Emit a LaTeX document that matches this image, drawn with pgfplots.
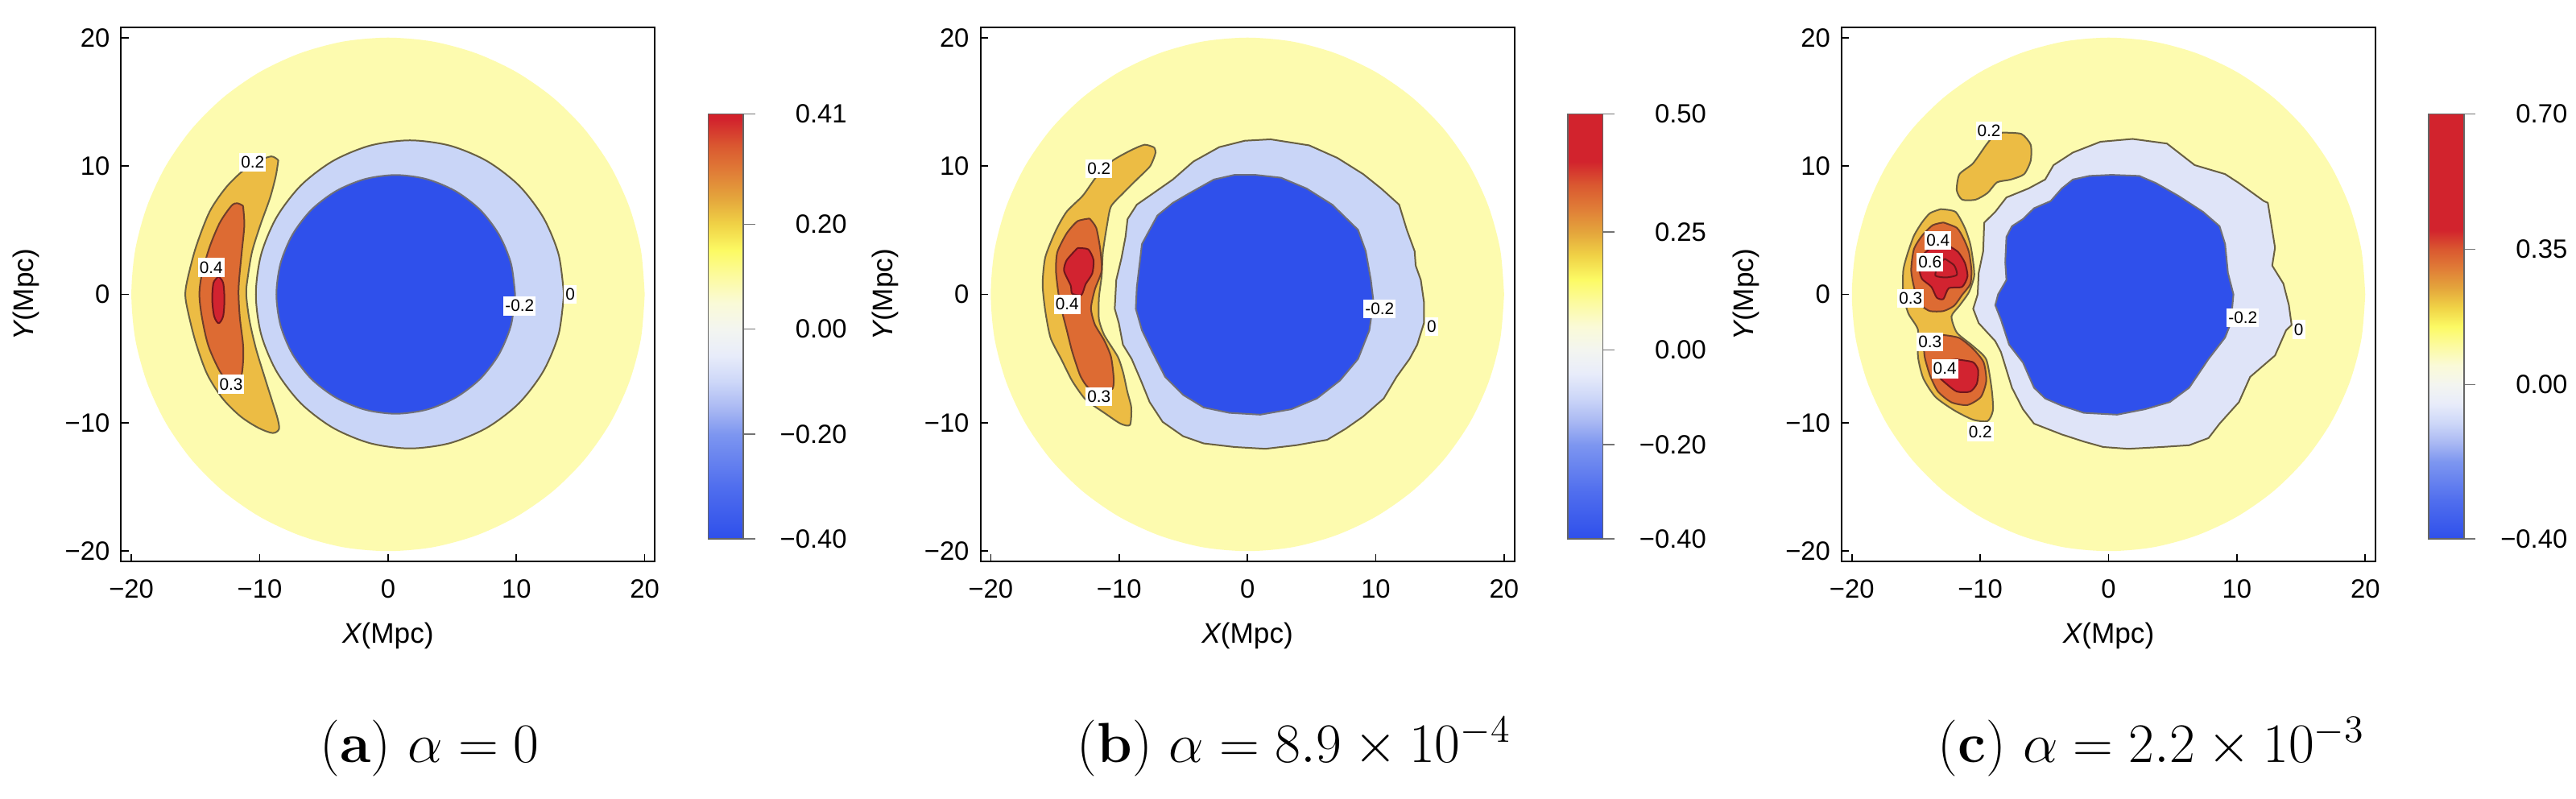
\documentclass[border=0pt]{standalone}
\usepackage{fontspec}
\usepackage{pgfplots}
\pgfplotsset{compat=1.18}
\newfontfamily\lsans{Liberation Sans}
\newcommand\tickfont{\lsans\fontsize{8.2}{9.8}\selectfont}
\newcommand\labfont{\lsans\fontsize{8.8}{10.5}\selectfont}
\newcommand\clabfont{\lsans\fontsize{5.2}{6}\selectfont}
\definecolor{bgY}{RGB}{253,251,175}
\definecolor{ringA}{RGB}{201,213,247}
\definecolor{ringC}{RGB}{223,228,248}
\definecolor{blu}{RGB}{47,80,235}
\definecolor{or2}{RGB}{236,188,68}
\definecolor{or3}{RGB}{221,107,51}
\definecolor{red4}{RGB}{210,35,48}
\definecolor{cl2}{RGB}{105,96,66}
\definecolor{cl3}{RGB}{110,62,42}
\definecolor{cl4}{RGB}{112,22,28}
\definecolor{cln}{RGB}{112,112,120}
\pgfplotsset{
  colormap={cmA}{rgb255(0pt)=(46,79,235); rgb255(10pt)=(80,110,238); rgb255(20pt)=(125,150,240); rgb255(25pt)=(170,185,243); rgb255(30pt)=(205,215,248); rgb255(35pt)=(232,236,250); rgb255(40pt)=(243,245,240); rgb255(45pt)=(250,250,215); rgb255(50pt)=(252,250,160); rgb255(55pt)=(252,250,100); rgb255(60pt)=(240,210,70); rgb255(65pt)=(228,165,60); rgb255(70pt)=(224,125,55); rgb255(75pt)=(218,88,48); rgb255(80pt)=(210,35,45); rgb255(81pt)=(212,32,40)},
  colormap={cmB}{rgb255(0pt)=(46,79,235); rgb255(10pt)=(80,110,238); rgb255(20pt)=(125,150,240); rgb255(25pt)=(170,185,243); rgb255(30pt)=(205,215,248); rgb255(35pt)=(232,236,250); rgb255(40pt)=(243,245,240); rgb255(45pt)=(250,250,215); rgb255(50pt)=(252,250,160); rgb255(55pt)=(252,250,100); rgb255(60pt)=(240,210,70); rgb255(65pt)=(228,165,60); rgb255(70pt)=(224,125,55); rgb255(75pt)=(218,88,48); rgb255(80pt)=(210,35,45); rgb255(90pt)=(210,35,45)},
  colormap={cmC}{rgb255(0pt)=(46,79,235); rgb255(10pt)=(80,110,238); rgb255(20pt)=(125,150,240); rgb255(25pt)=(170,185,243); rgb255(30pt)=(205,215,248); rgb255(35pt)=(232,236,250); rgb255(40pt)=(243,245,240); rgb255(45pt)=(250,250,215); rgb255(50pt)=(252,250,160); rgb255(55pt)=(252,250,100); rgb255(60pt)=(240,210,70); rgb255(65pt)=(228,165,60); rgb255(70pt)=(224,125,55); rgb255(75pt)=(218,88,48); rgb255(80pt)=(210,35,45); rgb255(110pt)=(210,35,45)},
  panel/.style={
    scale only axis, width=165.75pt, height=165.75pt,
    xmin=-20.8, xmax=20.8, ymin=-20.8, ymax=20.8,
    axis line style={line width=0.5pt},
    tick align=inside, tick pos=left, major tick length=2.3pt,
    tick style={line width=0.4pt, black},
    xtick={-20,-10,0,10,20}, ytick={-20,-10,0,10,20},
    xticklabels={−20,−10,0,10,20}, yticklabels={−20,−10,0,10,20},
    tick label style={font=\tickfont},
    xticklabel style={yshift=-2pt},
    xlabel={{\itshape X}(Mpc)}, ylabel={{\itshape Y}(Mpc)},
    label style={font=\labfont},
    xlabel style={at={(axis description cs:0.5,-0.1388)}, anchor=center},
    ylabel style={at={(axis description cs:-0.1786,0.5)}, anchor=center},
    colorbar, point meta min=-0.4,
  },
  cbar/.style={
    at={(parent axis.north east)}, anchor=north west,
    xshift=8pt, yshift=-26.9pt,
    scale only axis, width=10.9pt, height=131.9pt,
    ytick pos=right, yticklabel pos=right, tick align=outside, major tick length=3.6pt,
    ytick style={draw=black!55, line width=0.4pt},
    axis line style={draw=black!60, line width=0.4pt},
    yticklabel style={font=\tickfont, text width=21pt, align=right, xshift=4pt},
  },
  yellowdisk/.style={fill=bgY, draw=none, smooth},
  zr/.style={fill=#1, draw=cl2, line width=0.5pt, line join=round},
  nr/.style={fill=blu, draw=cln, line width=0.5pt, line join=round},
  r2/.style={fill=or2, draw=cl2, line width=0.5pt, line join=round},
  r3/.style={fill=or3, draw=cl3, line width=0.5pt, line join=round},
  r4/.style={fill=red4, draw=cl4, line width=0.5pt, line join=round},
}
\tikzset{clab/.style={fill=white, inner xsep=0.5pt, inner ysep=1.1pt, font=\clabfont}}
\pgfplotstableread{
x y
20 0
19.70 3.47
18.79 6.84
17.32 10
15.32 12.86
12.86 15.32
10 17.32
6.84 18.79
3.47 19.70
0 20
-3.47 19.70
-6.84 18.79
-10 17.32
-12.86 15.32
-15.32 12.86
-17.32 10
-18.79 6.84
-19.70 3.47
-20 0
-19.70 -3.47
-18.79 -6.84
-17.32 -10
-15.32 -12.86
-12.86 -15.32
-10 -17.32
-6.84 -18.79
-3.47 -19.70
0 -20
3.47 -19.70
6.84 -18.79
10 -17.32
12.86 -15.32
15.32 -12.86
17.32 -10
18.79 -6.84
19.70 -3.47
20 0
}\diskdata
\begin{document}
\begin{tikzpicture}
\useasboundingbox (0,0) rectangle (799.75pt,-248pt);
% ---------------- (a)
\begin{axis}[panel, at={(37.6pt,-8.5pt)}, anchor=north west,
  colormap name=cmA, point meta max=0.41,
  colorbar style={cbar, ytick={-0.4,-0.2,0,0.2,0.41}, yticklabels={−0.40,−0.20,0.00,0.20,0.41}}]
\addplot[yellowdisk] table {\diskdata};
\addplot[zr=ringA, smooth] coordinates {(13.7,0) (13.29,3.11) (12.09,6) (10.19,8.49) (7.7,10.39) (4.81,11.59) (1.7,12) (-1.41,11.59) (-4.3,10.39) (-6.79,8.49) (-8.69,6) (-9.89,3.11) (-10.3,0) (-9.89,-3.11) (-8.69,-6) (-6.79,-8.49) (-4.3,-10.39) (-1.41,-11.59) (1.7,-12) (4.81,-11.59) (7.7,-10.39) (10.19,-8.49) (12.09,-6) (13.29,-3.11) (13.7,0)};
\addplot[nr, smooth] coordinates {(9.9,0) (9.58,2.41) (8.65,4.65) (7.18,6.58) (5.25,8.05) (3.01,8.98) (0.6,9.3) (-1.81,8.98) (-4.05,8.05) (-5.98,6.58) (-7.45,4.65) (-8.38,2.41) (-8.7,0) (-8.38,-2.41) (-7.45,-4.65) (-5.98,-6.58) (-4.05,-8.05) (-1.81,-8.98) (0.6,-9.3) (3.01,-8.98) (5.25,-8.05) (7.18,-6.58) (8.65,-4.65) (9.58,-2.41) (9.9,0)};
\addplot[r2, smooth] coordinates {(-8.55,10.45) (-9.1,10.75) (-10.2,10.35) (-11.4,9.55) (-12.65,8.3) (-13.9,6.45) (-14.95,3.75) (-15.6,1.3) (-15.8,0) (-15.6,-1.3) (-15.0,-3.7) (-14.1,-6.2) (-12.9,-8.1) (-11.5,-9.5) (-10.1,-10.4) (-9.0,-10.8) (-8.5,-10.5) (-8.6,-9.7) (-9.0,-8.4) (-9.6,-6.5) (-10.3,-4.2) (-10.8,-2.0) (-11.05,0) (-10.95,1.2) (-10.6,3.3) (-9.95,5.4) (-9.2,7.5) (-8.75,9.2) (-8.55,10.45)};
\addplot[r3, smooth] coordinates {(-11.3,6.9) (-11.75,7.1) (-12.2,6.9) (-13.1,5.6) (-13.9,3.7) (-14.5,1.6) (-14.7,0) (-14.5,-1.8) (-14.0,-4.0) (-13.1,-6.0) (-12.3,-6.9) (-11.5,-6.5) (-11.3,-5.3) (-11.3,-3.9) (-11.55,-1.8) (-11.65,0) (-11.6,1.2) (-11.4,3.3) (-11.2,5.4) (-11.3,6.9)};
\addplot[r4, smooth] coordinates {(-13.2,1.4) (-12.85,0.9) (-12.75,-0.4) (-12.85,-1.7) (-13.2,-2.25) (-13.55,-1.7) (-13.7,-0.4) (-13.6,0.9) (-13.2,1.4)};
\node[clab] at (axis cs:-10.55,10.3) {0.2};
\node[clab] at (axis cs:-13.78,2.09) {0.4};
\node[clab] at (axis cs:-12.23,-7.0) {0.3};
\node[clab] at (axis cs:10.25,-0.9) {-0.2};
\node[clab] at (axis cs:14.2,0) {0};
\end{axis}
% ---------------- (b)
\begin{axis}[panel, at={(304.4pt,-8.5pt)}, anchor=north west,
  colormap name=cmB, point meta max=0.5,
  colorbar style={cbar, ytick={-0.4,-0.2,0,0.25,0.5}, yticklabels={−0.40,−0.20,0.00,0.25,0.50}}]
\addplot[yellowdisk] table {\diskdata};
\addplot[zr=ringA] coordinates {(1.80,12.08) (4.81,11.61) (7.01,10.63) (9.02,9.37) (10.42,8.25) (11.82,6.99) (12.42,5.03) (13.03,3.36) (13.11,2.24) (13.51,1.12) (13.75,-0.56) (13.75,-2.24) (13.23,-3.92) (12.63,-5.03) (11.62,-6.43) (10.62,-8.11) (9.02,-9.51) (7.62,-10.49) (6.21,-11.33) (3.81,-11.75) (1.40,-12.03) (-1.0,-11.89) (-3.41,-11.61) (-5.01,-11.05) (-6.61,-9.93) (-7.62,-8.39) (-8.30,-6.71) (-9.02,-5.03) (-9.70,-3.92) (-10.02,-2.24) (-10.34,-1.12) (-10.22,1.12) (-9.82,2.80) (-9.50,4.48) (-9.34,5.87) (-8.62,6.99) (-7.41,7.83) (-5.81,8.95) (-4.21,10.35) (-2.20,11.47) (-0.2,11.97) (1.80,12.08)};
\addplot[nr] coordinates {(0.60,9.31) (2.61,9.09) (4.61,8.25) (6.61,6.99) (8.62,5.03) (9.22,3.36) (9.62,1.12) (9.82,-0.56) (9.50,-2.80) (8.62,-5.03) (7.21,-6.71) (5.41,-8.11) (3.41,-8.95) (1.0,-9.37) (-1.40,-9.23) (-3.41,-8.81) (-5.01,-7.83) (-6.41,-6.43) (-7.41,-4.48) (-8.22,-2.80) (-8.70,-1.12) (-8.62,0.56) (-8.42,2.24) (-8.22,3.92) (-7.62,5.03) (-7.01,6.15) (-5.81,7.13) (-4.61,7.83) (-2.61,8.95) (-1.0,9.31) (0.60,9.31)};
\addplot[r2, smooth, tension=0.4] coordinates {(-7.27,11.45) (-8.00,11.66) (-9.05,11.24) (-10.52,10.41) (-11.77,9.16) (-12.82,7.70) (-14.08,6.45) (-14.92,4.99) (-15.75,2.90) (-15.96,0.79) (-15.75,-1.30) (-15.34,-3.39) (-14.50,-5.06) (-13.66,-6.73) (-12.61,-8.19) (-11.15,-9.23) (-9.89,-10.07) (-9.15,-10.17) (-9.05,-8.82) (-9.36,-7.57) (-9.68,-6.11) (-10.10,-4.86) (-11.15,-3.18) (-11.57,-1.93) (-11.57,-0.25) (-11.36,1.42) (-11.26,3.30) (-10.94,5.39) (-10.63,6.85) (-9.68,7.89) (-8.63,8.94) (-7.58,9.99) (-7.16,11.03) (-7.27,11.45)};
\addplot[r3, smooth, tension=0.4] coordinates {(-12.30,5.91) (-11.78,5.18) (-11.47,3.51) (-11.36,1.84) (-11.89,0.38) (-12.19,-1.09) (-11.89,-2.34) (-11.15,-3.60) (-10.63,-4.86) (-10.42,-6.53) (-10.52,-7.36) (-11.36,-7.57) (-12.40,-7.26) (-13.03,-6.32) (-13.66,-4.44) (-14.08,-2.77) (-14.40,-1.51) (-14.71,-0.04) (-14.92,1.84) (-14.81,3.30) (-14.08,4.76) (-13.24,5.70) (-12.30,5.91)};
\addplot[r4, smooth, tension=0.4] coordinates {(-13.24,3.61) (-12.40,3.51) (-11.99,2.67) (-12.09,1.63) (-12.61,0.79) (-12.93,-0.04) (-13.66,0.06) (-13.77,0.69) (-14.29,1.84) (-14.08,2.67) (-13.24,3.61)};
\node[clab] at (axis cs:-11.57,9.78) {0.2};
\node[clab] at (axis cs:-14.04,-0.77) {0.4};
\node[clab] at (axis cs:-11.57,-7.98) {0.3};
\node[clab] at (axis cs:10.30,-1.12) {-0.2};
\node[clab] at (axis cs:14.35,-2.52) {0};
\end{axis}
% ---------------- (c)
\begin{axis}[panel, at={(571.75pt,-8.5pt)}, anchor=north west,
  colormap name=cmC, point meta max=0.7,
  colorbar style={cbar, ytick={-0.4,0,0.35,0.7}, yticklabels={−0.40,0.00,0.35,0.70}}]
\addplot[yellowdisk] table {\diskdata};
\addplot[zr=ringC] coordinates {(1.87,12.11) (4.55,11.75) (6.71,10.07) (9.08,9.37) (10.16,8.67) (12.10,7.27) (12.41,7.13) (12.97,3.64) (12.75,2.24) (13.62,0.84) (14.05,-0.84) (14.26,-2.38) (13.83,-2.80) (12.97,-4.76) (11.03,-6.43) (10.16,-8.39) (8.65,-10.07) (7.79,-11.19) (6.28,-11.75) (4.12,-11.89) (1.53,-12.03) (-0.41,-11.89) (-1.92,-11.47) (-3.65,-10.91) (-5.81,-10.07) (-6.67,-8.95) (-7.53,-7.27) (-8.39,-4.48) (-8.83,-3.64) (-10.12,-2.24) (-10.55,-1.12) (-10.20,0) (-10.12,1.68) (-9.77,3.36) (-9.69,5.59) (-8.83,6.43) (-7.96,7.55) (-6.24,8.25) (-4.94,8.95) (-4.29,10.07) (-2.78,11.05) (-0.63,11.89) (1.87,12.11)};
\addplot[nr] coordinates {(0.24,9.31) (2.39,9.23) (3.69,8.67) (5.42,7.69) (7.36,6.43) (8.65,5.31) (9.08,3.92) (9.30,1.68) (9.73,0) (9.52,-2.24) (9.08,-3.36) (7.79,-5.03) (6.28,-7.27) (4.77,-8.39) (2.83,-8.95) (0.67,-9.37) (-1.92,-9.23) (-3.65,-8.67) (-4.94,-8.11) (-5.81,-7.27) (-6.67,-5.31) (-7.75,-3.92) (-8.39,-1.96) (-8.83,-0.84) (-8.61,0) (-7.96,1.12) (-8.05,2.52) (-7.96,4.48) (-7.53,5.31) (-6.67,5.87) (-5.81,6.71) (-4.51,7.27) (-3.65,8.25) (-2.78,8.95) (-1.49,9.23) (0.24,9.31)};
\addplot[r2, smooth, tension=0.4] coordinates {(-8.27,12.60) (-6.80,12.50) (-6.07,11.66) (-6.07,10.41) (-6.59,9.36) (-7.64,8.94) (-8.69,8.73) (-9.43,7.90) (-10.36,7.38) (-11.41,7.38) (-11.83,8.11) (-11.62,9.36) (-10.57,10.20) (-9.53,11.66) (-8.90,12.39) (-8.27,12.60)};
\addplot[r2, smooth, tension=0.4] coordinates {(-13.08,6.64) (-11.93,6.43) (-11.20,5.18) (-10.78,3.93) (-10.57,2.68) (-10.47,1.42) (-10.88,0.17) (-11.62,-0.88) (-12.24,-1.72) (-11.82,-2.98) (-10.57,-4.02) (-9.53,-5.07) (-9.11,-7.36) (-9.01,-9.03) (-9.43,-9.87) (-10.57,-9.76) (-12.03,-9.03) (-13.49,-7.99) (-14.44,-6.53) (-14.85,-4.86) (-14.85,-2.77) (-15.59,-1.51) (-16.00,-0.04) (-16.00,1.84) (-15.69,3.09) (-15.17,4.56) (-14.54,5.60) (-13.91,6.33) (-13.08,6.64)};
\addplot[r3, smooth, tension=0.4] coordinates {(-12.87,5.60) (-11.82,5.18) (-11.30,4.35) (-10.88,3.30) (-10.68,1.84) (-10.78,0.79) (-11.41,-0.04) (-12.03,-0.88) (-12.87,-1.30) (-13.91,-1.30) (-14.54,-0.88) (-15.06,0.17) (-15.38,1.84) (-15.17,3.51) (-14.54,4.56) (-13.70,5.39) (-12.87,5.60)};
\addplot[r3, smooth, tension=0.4] coordinates {(-12.66,-3.19) (-11.62,-3.40) (-10.57,-4.23) (-9.74,-5.28) (-9.53,-6.74) (-9.95,-7.99) (-11.00,-8.62) (-12.24,-8.41) (-13.29,-7.57) (-13.91,-6.32) (-14.33,-4.86) (-14.33,-3.82) (-13.49,-3.19) (-12.66,-3.19)};
\addplot[r4, smooth, tension=0.4] coordinates {(-12.35,3.72) (-11.72,3.30) (-11.20,2.47) (-10.99,1.42) (-11.41,0.59) (-12.45,0.48) (-12.87,-0.36) (-13.39,-0.25) (-13.81,0.59) (-14.54,1.21) (-14.75,2.05) (-14.44,3.09) (-13.70,3.72) (-13.08,3.93) (-12.35,3.72)};
\addplot[r4, smooth, tension=0.4] coordinates {(-11.83,-5.07) (-10.57,-5.28) (-10.16,-5.90) (-10.26,-6.95) (-10.78,-7.57) (-11.82,-7.57) (-12.66,-6.95) (-13.29,-6.32) (-13.18,-5.49) (-12.66,-5.18) (-11.83,-5.07)};
\addplot[draw=cl4, line width=0.5pt, smooth, tension=0.4] coordinates {(-12.77,2.78) (-12.03,2.26) (-11.82,1.52) (-12.66,1.32) (-13.49,1.46) (-13.3,2.2) (-12.77,2.78)};
\node[clab] at (axis cs:-9.32,12.75) {0.2};
\node[clab] at (axis cs:-13.29,4.20) {0.4};
\node[clab] at (axis cs:-13.91,2.51) {0.6};
\node[clab] at (axis cs:-15.42,-0.31) {0.3};
\node[clab] at (axis cs:-13.91,-3.70) {0.3};
\node[clab] at (axis cs:-12.76,-5.79) {0.4};
\node[clab] at (axis cs:-9.99,-10.70) {0.2};
\node[clab] at (axis cs:10.46,-1.82) {-0.2};
\node[clab] at (axis cs:14.82,-2.74) {0};
\end{axis}
% captions
\node[anchor=base, font=\fontsize{17.5}{21}\selectfont] at (133.4pt,-236.7pt) {(\textbf{a}) $\alpha = 0$};
\node[anchor=base, font=\fontsize{17.5}{21}\selectfont] at (401.75pt,-236.7pt) {(\textbf{b}) $\alpha = 8.9 \times 10^{-4}$};
\node[anchor=base, font=\fontsize{17.5}{21}\selectfont] at (667.9pt,-236.7pt) {(\textbf{c}) $\alpha = 2.2 \times 10^{-3}$};
\end{tikzpicture}
\end{document}
